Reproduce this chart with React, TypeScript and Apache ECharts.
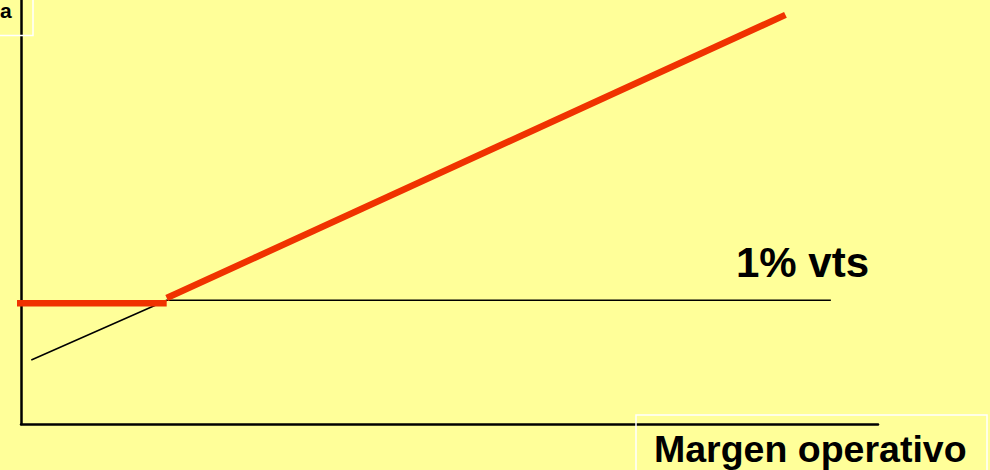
import React, { useEffect, useRef } from "react";
import * as echarts from "echarts";

// Thin black reference line: rising segment then flat "1% vts" level
const blackLine: [number, number][] = [
  [1.2, 15.1],
  [17.0, 29.2],
  [94.5, 29.2],
];
// Red (thick) line: flat floor segment
const redFlat: [number, number][] = [
  [-0.7, 28.5],
  [17.0, 28.5],
];
// Red (thick) line: rising segment
const redRise: [number, number][] = [
  [17.0, 29.7],
  [89.2, 96.5],
];

const levelLabel = "1% vts";
const xAxisTitle = "Margen operativo";
const yAxisTitleFragment = "a";

const BG = "#FFFF99";
const RED = "#F03200";
const FONT = "'Liberation Sans', Arial, sans-serif";

export default function App() {
  const ref = useRef<HTMLDivElement>(null);
  useEffect(() => {
    if (!ref.current) return;
    const chart = echarts.init(ref.current, undefined, { renderer: "svg" });
    chart.setOption({
      animation: false,
      backgroundColor: BG,
      grid: { left: 21, top: 0, width: 857, height: 424 },
      xAxis: {
        type: "value",
        min: 0,
        max: 100,
        axisLine: { show: true, onZero: false, lineStyle: { color: "#000", width: 2.5 } },
        axisTick: { show: false },
        axisLabel: { show: false },
        splitLine: { show: false },
      },
      yAxis: {
        type: "value",
        min: 0,
        max: 100,
        axisLine: { show: true, onZero: false, lineStyle: { color: "#000", width: 2.5 } },
        axisTick: { show: false },
        axisLabel: { show: false },
        splitLine: { show: false },
      },
      series: [
        {
          type: "line",
          data: blackLine,
          symbol: "none",
          clip: false,
          lineStyle: { color: "#000", width: 1.5 },
          z: 2,
        },
        {
          type: "line",
          data: redFlat,
          symbol: "none",
          clip: false,
          lineStyle: { color: RED, width: 6.5, cap: "butt" },
          z: 3,
        },
        {
          type: "line",
          data: redRise,
          symbol: "none",
          clip: false,
          lineStyle: { color: RED, width: 6.5, cap: "butt" },
          z: 3,
        },
      ],
      graphic: [
        {
          type: "rect",
          shape: { x: -5, y: -5, width: 38, height: 40.5 },
          style: { fill: "none", stroke: "#FFFFFF", lineWidth: 1.5 },
          z: 1,
        },
        {
          type: "text",
          x: 0,
          y: 10,
          style: {
            text: yAxisTitleFragment,
            font: `bold 21px ${FONT}`,
            fill: "#000",
            align: "left",
            verticalAlign: "middle",
          },
          z: 5,
        },
        {
          type: "rect",
          shape: { x: 636, y: 415, width: 351, height: 70 },
          style: { fill: "none", stroke: "#FFFFFF", lineWidth: 1.5 },
          z: 1,
        },
        {
          type: "text",
          x: 654,
          y: 449,
          style: {
            text: xAxisTitle,
            font: `bold 37.5px ${FONT}`,
            fill: "#000",
            align: "left",
            verticalAlign: "middle",
          },
          z: 5,
        },
        {
          type: "text",
          x: 736,
          y: 262,
          style: {
            text: levelLabel,
            font: `bold 42px ${FONT}`,
            fill: "#000",
            align: "left",
            verticalAlign: "middle",
          },
          z: 5,
        },
      ],
    });
    return () => chart.dispose();
  }, []);
  return (
    <div
      ref={ref}
      style={{ position: "fixed", left: 0, top: 0, width: 990, height: 470, background: BG }}
    />
  );
}
